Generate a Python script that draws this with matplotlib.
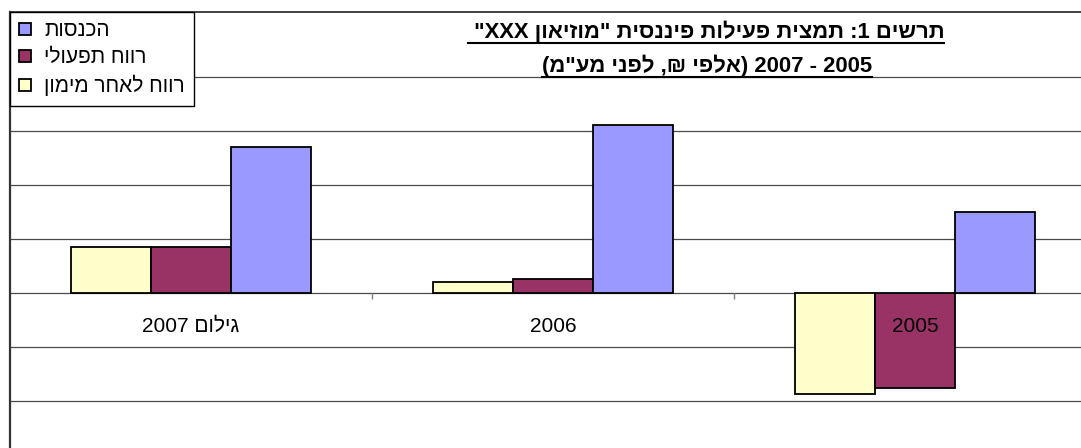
import matplotlib
matplotlib.use("Agg")
import matplotlib.pyplot as plt
import matplotlib.transforms as mtransforms
from matplotlib.patches import Patch
from matplotlib.lines import Line2D
import numpy as np

plt.rcParams['font.family'] = ['Liberation Sans', 'DejaVu Sans']

# ---------------- data ----------------
categories = ['גילום 2007', '2006', '2005']
series_names = ['רווח לאחר מימון', 'רווח תפעולי', 'הכנסות']
after_finance = [850, 210, -1875]
operating = [850, 255, -1765]
income = [2710, 3115, 1500]
grid_values = [-2000, -1000, 0, 1000, 2000, 3000, 4000]
title_line1 = 'תרשים 1: תמצית פעילות פיננסית "מוזיאון XXX" '
title_line2 = '2005 - 2007 (אלפי ₪, לפני מע"מ)'

colors = ['#FFFFCC', '#993366', '#9999FF']


# --------- minimal bidi (RTL paragraph) for display ---------
MIRROR = {'(': ')', ')': '(', '[': ']', ']': '[', '<': '>', '>': '<'}


def _type(c):
    if '\u0590' <= c <= '\u05FF':
        return 'R'
    if c.isdigit():
        return 'EN'
    if c.isascii() and c.isalpha():
        return 'L'
    return 'N'


def visual(s):
    types = [_type(c) for c in s]
    levels = [0] * len(s)
    for i, t in enumerate(types):
        if t == 'R':
            levels[i] = 1
        elif t in ('L', 'EN'):
            levels[i] = 2
    i = 0
    n = len(s)
    while i < n:
        if types[i] == 'N':
            j = i
            while j < n and types[j] == 'N':
                j += 1
            prev = 'R' if i == 0 else ('L' if types[i - 1] == 'L' else 'R')
            nxt = 'R' if j == n else ('L' if types[j] == 'L' else 'R')
            lvl = 2 if (prev == 'L' and nxt == 'L') else 1
            for k in range(i, j):
                levels[k] = lvl
            i = j
        else:
            i += 1
    chars = [MIRROR.get(c, c) if levels[k] % 2 == 1 else c for k, c in enumerate(s)]
    out = []
    i = 0
    while i < n:
        if levels[i] >= 2:
            j = i
            while j < n and levels[j] >= 2:
                j += 1
            out.extend(reversed(chars[i:j]))
            i = j
        else:
            out.append(chars[i])
            i += 1
    return ''.join(reversed(out))


# ---------------- figure ----------------
W, H = 1081, 448
fig = plt.figure(figsize=(W / 100, H / 100), dpi=100)

px_left, px_right, px_top = 10, 1096, 12
ax = fig.add_axes([px_left / W, 0, (px_right - px_left) / W, 1 - px_top / H])

x = np.arange(len(categories))
bw = 0.221
series = [after_finance, operating, income]
for k, (vals, col) in enumerate(zip(series, colors)):
    ax.bar(x + (k - 1) * bw, vals, width=bw, color=col, edgecolor='black',
           linewidth=1.3, zorder=3)

ax.set_xlim(-0.5, len(categories) - 0.5)
zero_px, step_px = 293, 54.0
ax.set_ylim(-(H - zero_px) / step_px * 1000, (zero_px - px_top) / step_px * 1000)

# gridlines
for g in grid_values:
    ax.axhline(g, color='#4a4a4a', linewidth=0.9, zorder=1)

ax.set_xticks([])
ax.set_yticks([])
for sp in ['right', 'bottom']:
    ax.spines[sp].set_visible(False)
ax.spines['left'].set_linewidth(1.6)
ax.spines['left'].set_color('#333333')
ax.spines['top'].set_linewidth(1.3)
ax.spines['top'].set_color('#333333')

# category boundary tick marks below zero line
bounds = x[:-1] + 0.5
ax.vlines(bounds, 0, -6 / step_px * 1000, color='#7f7f7f', linewidth=1.0, zorder=2)

# category labels
lab_tr = mtransforms.offset_copy(ax.transData, fig, x=0, y=-39, units='dots')
for xi, c in zip(x, categories):
    ax.text(xi, 0, visual(c), transform=lab_tr, ha='center', va='baseline',
            fontsize=15, color='black', zorder=6)

# legend
handles = [Patch(facecolor=colors[k], edgecolor='black', linewidth=1.3,
                 label=visual(series_names[k])) for k in [2, 1, 0]]
leg = fig.legend(handles=handles, loc='upper left',
                 bbox_to_anchor=(px_left / W, 1 - px_top / H),
                 fontsize=15, frameon=True, fancybox=False, shadow=False,
                 borderaxespad=0, borderpad=0.45, handlelength=0.55,
                 handleheight=0.55, handletextpad=0.65, labelspacing=0.38)
leg.get_frame().set_edgecolor('black')
leg.get_frame().set_linewidth(1.0)
leg.get_frame().set_facecolor('white')
leg.get_frame().set_alpha(1)

# title with underline
t1 = fig.text(706 / W, 1 - 38 / H, visual(title_line1), ha='center', va='baseline',
              fontsize=15.8, fontweight='bold')
t2 = fig.text(707 / W, 1 - 72 / H, visual(title_line2), ha='center', va='baseline',
              fontsize=15.8, fontweight='bold')
fig.canvas.draw()
r = fig.canvas.get_renderer()
for t, base in [(t1, 38), (t2, 72)]:
    bb = t.get_window_extent(renderer=r)
    yline = 1 - (base + 5) / H
    fig.add_artist(Line2D([bb.x0 / W, bb.x1 / W], [yline, yline],
                          transform=fig.transFigure, color='black', linewidth=1.5))

fig.savefig('out.png', dpi=100)
